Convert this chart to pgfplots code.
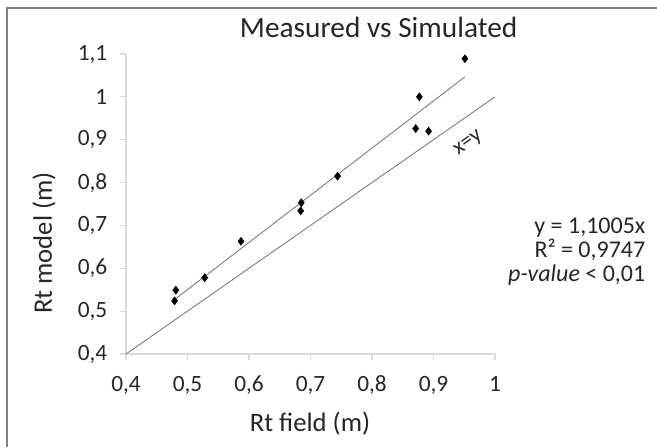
\documentclass[border=0pt]{standalone}
\usepackage{pgfplots}
\pgfplotsset{compat=1.18}
\usepackage{fontspec}
\setmainfont{Carlito}
\definecolor{axgray}{HTML}{D9D9D9}
\definecolor{lngray}{HTML}{707070}
\definecolor{frgray}{HTML}{808080}
\begin{document}
\begin{tikzpicture}
\path[use as bounding box] (0,0) rectangle (492.75pt,335.25pt);
\draw[frgray, line width=1.5pt] (4.9pt,0) -- (4.9pt,328.9pt) -- (492.75pt,328.9pt);
\begin{axis}[
  at={(94.5pt,69.75pt)}, anchor=south west,
  scale only axis, width=276.75pt, height=225pt,
  xmin=0.4, xmax=1, ymin=0.4, ymax=1.1,
  axis lines=left, axis line style={-, axgray, line width=0.8pt},
  xtick={0.4,0.5,...,1.0}, ytick={0.4,0.5,...,1.1},
  tick align=outside, major tick length=4.5pt,
  tick style={axgray, line width=0.8pt},
  /pgf/number format/assume math mode=true,
  /pgf/number format/use comma, /pgf/number format/fixed, /pgf/number format/precision=1,
  ticklabel style={font=\fontsize{17.5}{20}\selectfont, text=black!85},
  xticklabel style={yshift=-8.5pt},
  yticklabel style={xshift=-6pt},
  clip=false,
]
\addplot[only marks, mark=diamond*, mark size=3pt, black] coordinates {
(0.481,0.549) (0.479,0.524) (0.528,0.578) (0.587,0.663) (0.685,0.753)
(0.684,0.734) (0.744,0.815) (0.871,0.926) (0.892,0.920) (0.877,1.000) (0.951,1.089)};
\addplot[lngray, line width=0.6pt] coordinates {(0.479,0.5271) (0.951,1.0466)};
\addplot[lngray, line width=0.6pt] coordinates {(0.4,0.4) (1,1)};
\node[rotate=36, font=\fontsize{16.5}{19}\selectfont, text=black!85] at (axis cs:0.957,0.891) {x=y};
\end{axis}
\node[anchor=base, font=\fontsize{22}{26}\selectfont, text=black!85] at (284pt,306.75pt) {Measured vs Simulated};
\node[font=\fontsize{20}{24}\selectfont, text=black!85] at (232.5pt,17.25pt) {Rt field (m)};
\node[rotate=90, font=\fontsize{20}{24}\selectfont, text=black!85] at (33pt,153pt) {Rt model (m)};
\node[anchor=base east, font=\fontsize{18}{21}\selectfont, text=black!85] at (487.5pt,160pt) {y = 1,1005x};
\node[anchor=base east, font=\fontsize{18}{21}\selectfont, text=black!85] at (487.5pt,142pt) {R² = 0,9747};
\node[anchor=base east, font=\fontsize{18}{21}\selectfont, text=black!85] at (487.5pt,124pt) {\textit{p-value} < 0,01};
\end{tikzpicture}
\end{document}
